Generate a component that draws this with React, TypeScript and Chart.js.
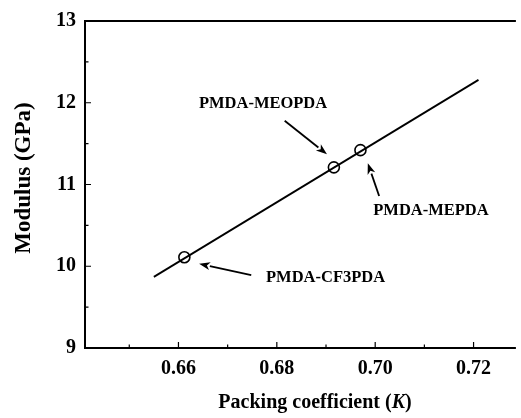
import { useEffect, useRef } from 'react';
import { Chart, registerables } from 'chart.js';

Chart.register(...registerables);

// ---- data ----
const fitK = [0.655, 0.721];
const fitModulus = [9.87, 12.28];
const sampleNames = ['PMDA-CF3PDA', 'PMDA-MEOPDA', 'PMDA-MEPDA'];
const sampleK = [0.6612, 0.6916, 0.697];
const sampleModulus = [10.11, 11.21, 11.42];
const xTickValues = [0.66, 0.68, 0.7, 0.72];
const xTickLabels = ['0.66', '0.68', '0.70', '0.72'];
const xMinorTicks = [0.65, 0.67, 0.69, 0.71];
const yTickValues = [9, 10, 11, 12, 13];
const yTickLabels = ['9', '10', '11', '12', '13'];
const yMinorTicks = [9.5, 10.5, 11.5, 12.5];

// annotation layout (data coordinates), one per sample name
const labelLayout = [
  { x: 0.6778, y: 9.86, align: 'left', from: [0.6748, 9.89], to: [0.6642, 10.03] },
  { x: 0.6772, y: 11.99, align: 'center', from: [0.6816, 11.78], to: [0.6902, 11.37] },
  { x: 0.6996, y: 10.68, align: 'left', from: [0.7008, 10.86], to: [0.6985, 11.26] },
];

const FONT = '"Liberation Serif", "Times New Roman", serif';

const decorPlugin = {
  id: 'decor',
  afterDraw(chart: any) {
    const ctx = chart.ctx;
    const { left, right, top, bottom } = chart.chartArea;
    const xs = chart.scales.x;
    const ys = chart.scales.y;
    ctx.save();
    ctx.strokeStyle = '#000';
    ctx.fillStyle = '#000';
    // frame
    ctx.lineWidth = 2;
    ctx.beginPath();
    ctx.moveTo(right + 2, top);
    ctx.lineTo(left, top);
    ctx.lineTo(left, bottom);
    ctx.lineTo(right + 2, bottom);
    ctx.stroke();
    // inward ticks
    ctx.lineWidth = 1.2;
    ctx.beginPath();
    xTickValues.forEach((v) => {
      const px = xs.getPixelForValue(v);
      ctx.moveTo(px, bottom);
      ctx.lineTo(px, bottom - 6);
    });
    xMinorTicks.forEach((v) => {
      const px = xs.getPixelForValue(v);
      ctx.moveTo(px, bottom);
      ctx.lineTo(px, bottom - 3.5);
    });
    yTickValues.forEach((v) => {
      const py = ys.getPixelForValue(v);
      ctx.moveTo(left, py);
      ctx.lineTo(left + 6, py);
    });
    yMinorTicks.forEach((v) => {
      const py = ys.getPixelForValue(v);
      ctx.moveTo(left, py);
      ctx.lineTo(left + 3.5, py);
    });
    ctx.stroke();

    // annotations
    ctx.font = 'bold 16.5px ' + FONT;
    ctx.textBaseline = 'middle';
    sampleNames.forEach((name, i) => {
      const l = labelLayout[i];
      ctx.textAlign = l.align as CanvasTextAlign;
      ctx.fillText(name, xs.getPixelForValue(l.x), ys.getPixelForValue(l.y));
      const x1 = xs.getPixelForValue(l.from[0]);
      const y1 = ys.getPixelForValue(l.from[1]);
      const x2 = xs.getPixelForValue(l.to[0]);
      const y2 = ys.getPixelForValue(l.to[1]);
      const ang = Math.atan2(y2 - y1, x2 - x1);
      const hl = 11;
      const hw = 4;
      const bx = x2 - hl * Math.cos(ang);
      const by = y2 - hl * Math.sin(ang);
      ctx.lineWidth = 1.8;
      ctx.beginPath();
      ctx.moveTo(x1, y1);
      ctx.lineTo(bx, by);
      ctx.stroke();
      ctx.beginPath();
      ctx.moveTo(x2, y2);
      ctx.lineTo(bx + hw * Math.sin(ang), by - hw * Math.cos(ang));
      ctx.lineTo(bx + 3 * Math.cos(ang), by + 3 * Math.sin(ang));
      ctx.lineTo(bx - hw * Math.sin(ang), by + hw * Math.cos(ang));
      ctx.closePath();
      ctx.fill();
    });

    // y title
    ctx.save();
    ctx.translate(24, 178);
    ctx.rotate(-Math.PI / 2);
    ctx.textAlign = 'center';
    ctx.textBaseline = 'middle';
    ctx.font = 'bold 23px ' + FONT;
    ctx.fillText('Modulus (GPa)', 0, 0);
    ctx.restore();

    // x title with italic K
    const parts = [
      { t: 'Packing coefficient (', f: 'bold 20px ' + FONT },
      { t: 'K', f: 'italic bold 20px ' + FONT },
      { t: ')', f: 'bold 20px ' + FONT },
    ];
    let total = 0;
    parts.forEach((p) => {
      ctx.font = p.f;
      total += ctx.measureText(p.t).width;
    });
    let cx = 315 - total / 2;
    ctx.textAlign = 'left';
    ctx.textBaseline = 'middle';
    parts.forEach((p) => {
      ctx.font = p.f;
      ctx.fillText(p.t, cx, 403);
      cx += ctx.measureText(p.t).width;
    });
    ctx.restore();
  },
};

export default function App() {
  const ref = useRef<HTMLCanvasElement | null>(null);
  useEffect(() => {
    if (!ref.current) return;
    const chart = new Chart(ref.current, {
      type: 'scatter',
      data: {
        datasets: [
          {
            label: 'fit',
            data: fitK.map((k, i) => ({ x: k, y: fitModulus[i] })),
            showLine: true,
            borderColor: '#000',
            borderWidth: 1.8,
            pointRadius: 0,
          },
          {
            label: 'samples',
            data: sampleK.map((k, i) => ({ x: k, y: sampleModulus[i] })),
            pointRadius: 5.5,
            pointBorderWidth: 1.6,
            pointBorderColor: '#000',
            pointBackgroundColor: 'rgba(0,0,0,0)',
          },
        ],
      },
      options: {
        animation: false,
        responsive: false,
        layout: { padding: { top: 19, right: 0, left: 0, bottom: 0 } },
        plugins: { legend: { display: false }, tooltip: { enabled: false } },
        scales: {
          x: {
            type: 'linear',
            min: 0.641,
            max: 0.7282,
            grid: { display: false, drawTicks: false },
            border: { display: false },
            afterBuildTicks: (s: any) => {
              s.ticks = xTickValues.map((v) => ({ value: v }));
            },
            afterFit: (s: any) => {
              s.height = 70;
            },
            ticks: {
              padding: 9,
              color: '#000',
              maxRotation: 0,
              autoSkip: false,
              font: { family: FONT, size: 20, weight: 'bold' },
              callback: (v: any) => {
                const i = xTickValues.findIndex((t) => Math.abs(t - v) < 1e-6);
                return i >= 0 ? xTickLabels[i] : '';
              },
            },
          },
          y: {
            type: 'linear',
            min: 9,
            max: 13,
            grid: { display: false, drawTicks: false },
            border: { display: false },
            afterBuildTicks: (s: any) => {
              s.ticks = yTickValues.map((v) => ({ value: v }));
            },
            afterFit: (s: any) => {
              s.width = 85;
            },
            ticks: {
              padding: 9,
              color: '#000',
              autoSkip: false,
              font: { family: FONT, size: 20, weight: 'bold' },
              callback: (v: any) => {
                const i = yTickValues.findIndex((t) => Math.abs(t - v) < 1e-6);
                return i >= 0 ? yTickLabels[i] : '';
              },
            },
          },
        },
      },
      plugins: [decorPlugin],
    } as any);
    return () => chart.destroy();
  }, []);
  return (
    <div style={{ position: 'fixed', left: 0, top: 0, width: 521, height: 418, background: '#fff', overflow: 'hidden' }}>
      <canvas ref={ref} width={521} height={418} style={{ display: 'block', width: 521, height: 418 }} />
    </div>
  );
}
